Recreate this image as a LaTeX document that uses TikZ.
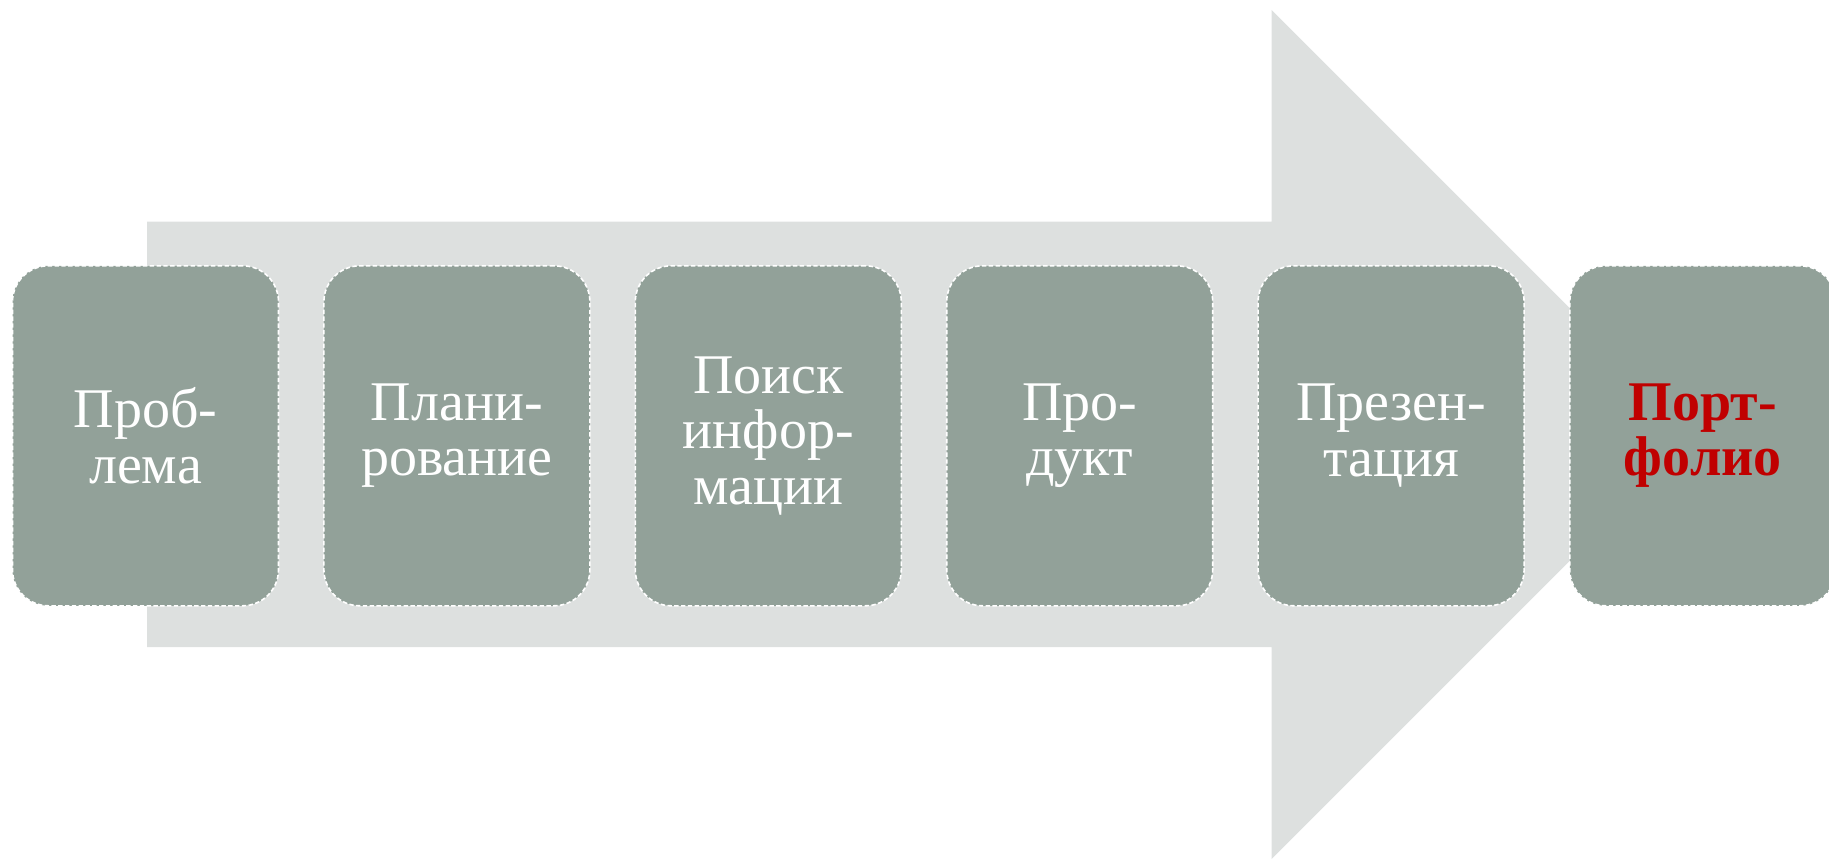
\documentclass[tikz,border=0pt]{standalone}
\usepackage{fontspec}
\setmainfont{Liberation Serif}
\definecolor{boxfill}{HTML}{92A199}
\definecolor{arrowgray}{HTML}{DDE0DF}
\definecolor{portred}{HTML}{C00000}
\begin{document}
\begin{tikzpicture}[x=0.5pt,y=-0.5pt,
  stage/.style={rectangle, rounded corners=18pt, fill=boxfill, draw=white,
    dash pattern=on 2.2pt off 1.2pt, line width=0.8pt, inner sep=0pt,
    minimum width=133pt, minimum height=170pt, anchor=north west,
    text=white, align=center, font=\fontsize{28}{27.8}\selectfont},
  laststage/.style={stage, text=portred, font=\fontsize{28}{27.8}\selectfont\bfseries}]
\clip (0,0) rectangle (1829,861);
\fill[arrowgray] (147,221.7) -- (1271.7,221.7) -- (1271.7,10) -- (1696,434.5)
  -- (1271.7,859) -- (1271.7,647) -- (147,647) -- cycle;
\node[stage] (s1) at (11.7,265) {Проб-\\лема};
\node[stage] (s2) at (323.1,265) {Плани-\\рование};
\node[stage] (s3) at (634.5,265) {Поиск\\инфор-\\мации};
\node[stage] (s4) at (945.9,265) {Про-\\дукт};
\node[stage] (s5) at (1257.3,265) {Презен-\\тация};
\node[laststage] (s6) at (1569,265) {Порт-\\фолио};
\end{tikzpicture}
\end{document}
